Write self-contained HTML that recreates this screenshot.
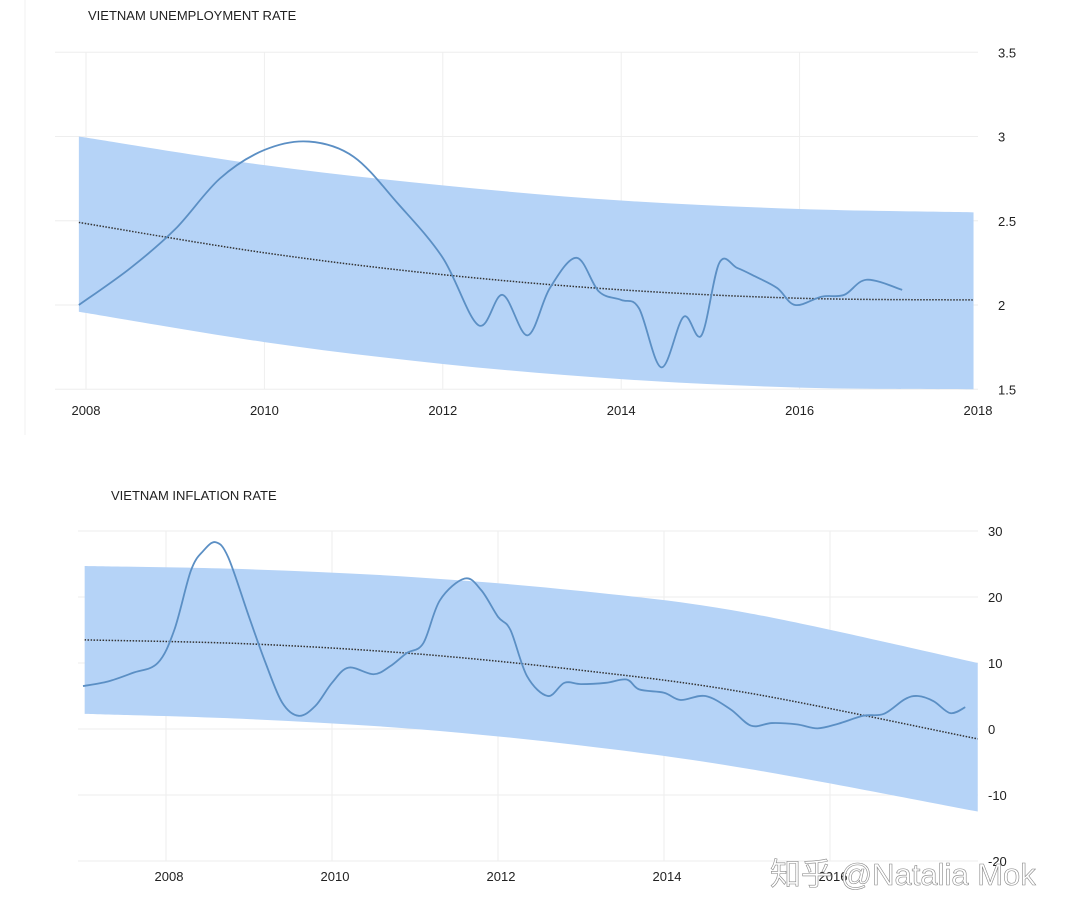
<!DOCTYPE html>
<html><head><meta charset="utf-8">
<style>
body{margin:0;background:#fff;font-family:"Liberation Sans","Noto Sans CJK SC",sans-serif;}
svg text{font-family:"Liberation Sans","Noto Sans CJK SC",sans-serif;}
</style></head>
<body>
<svg id="s" width="1080" height="918">
<line x1="25" y1="0" x2="25" y2="435" stroke="#f0f0f0"/>
<text x="88" y="20" font-size="13" fill="#222">VIETNAM UNEMPLOYMENT RATE</text>
<text x="111" y="500" font-size="13" fill="#222">VIETNAM INFLATION RATE</text>
<g id="c1"></g>
<g id="c2"></g>
<text x="770" y="885" font-size="31" fill="#fff" stroke="#888" stroke-width="0.6">知乎 @Natalia Mok</text>
</svg>
<script>
// Unemployment data
const uYears=[2007.92,2008.5,2009,2009.5,2010,2010.5,2011,2011.5,2012,2012.4,2012.67,2012.95,2013.2,2013.5,2013.75,2014,2014.2,2014.45,2014.7,2014.9,2015.1,2015.3,2015.5,2015.75,2015.95,2016.25,2016.5,2016.75,2017.15];
const uVals=[2.0,2.22,2.45,2.75,2.92,2.97,2.88,2.6,2.28,1.88,2.06,1.82,2.1,2.28,2.08,2.03,1.98,1.63,1.93,1.82,2.25,2.22,2.17,2.1,2.0,2.05,2.06,2.15,2.09];
const uBandX=[2007.92,2010,2012,2014,2016,2017.95];
const uBandTop=[3.0,2.83,2.71,2.62,2.57,2.55];
const uBandBot=[1.96,1.78,1.65,1.56,1.51,1.5];
const uFcst=[2.49,2.31,2.18,2.09,2.04,2.03];
const uYTicks=[1.5,2,2.5,3,3.5];
const uXTicks=[2008,2010,2012,2014,2016,2018];
// Inflation data
const iYears=[2007.0,2007.3,2007.6,2007.9,2008.1,2008.3,2008.45,2008.6,2008.75,2009.0,2009.2,2009.4,2009.6,2009.8,2010.0,2010.2,2010.5,2010.7,2010.9,2011.1,2011.3,2011.6,2011.8,2012.0,2012.15,2012.35,2012.6,2012.8,2013.0,2013.3,2013.55,2013.7,2014.0,2014.2,2014.5,2014.8,2015.05,2015.3,2015.6,2015.85,2016.1,2016.4,2016.65,2016.9,2017.06,2017.25,2017.45,2017.63];
const iVals=[6.5,7.2,8.5,10,15,24,27,28.3,26,17,10,4,2,3.5,7,9.3,8.3,9.5,11.5,13,19.5,22.8,21,17,15,8,5,7,6.8,7,7.5,6,5.5,4.4,5,3,0.5,0.9,0.7,0.1,0.8,2,2.3,4.5,5,4.2,2.4,3.3];
const iBandX=[2007.02,2009,2011,2013,2015,2017.78];
const iBandTop=[24.7,24.2,23.0,20.9,17.6,10.0];
const iBandBot=[2.3,1.5,0.0,-2.5,-6.0,-12.5];
const iFcst=[13.5,12.9,11.4,8.9,5.5,-1.5];
const iYTicks=[-20,-10,0,10,20,30];
const iXTicks=[2008,2010,2012,2014,2016];

const NS='http://www.w3.org/2000/svg';
function mk(p,t,a){const e=document.createElementNS(NS,t);for(const k in a)e.setAttribute(k,a[k]);p.appendChild(e);return e;}
function smooth(pts){let d='M'+pts[0][0]+','+pts[0][1];for(let i=0;i<pts.length-1;i++){const p0=pts[i-1]||pts[i],p1=pts[i],p2=pts[i+1],p3=pts[i+2]||p2;d+=' C'+(p1[0]+(p2[0]-p0[0])/6)+','+(p1[1]+(p2[1]-p0[1])/6)+' '+(p2[0]-(p3[0]-p1[0])/6)+','+(p2[1]-(p3[1]-p1[1])/6)+' '+p2[0]+','+p2[1];}return d;}
function draw(g,o){
 const X=v=>o.x0+(v-o.xv0)*o.xs, Y=v=>o.y0-(v-o.yv0)*o.ys;
 o.yt.forEach(t=>{const l=mk(g,'line',{x1:o.gl,x2:978,y1:Y(t),y2:Y(t),stroke:'#eee'});
  
  const tx=mk(g,'text',{x:o.lx,y:Y(t)+5,'font-size':13,fill:'#222','text-anchor':'start'});tx.textContent=String(t);
  });
 o.xt.forEach(t=>{if(t<2018){const l=mk(g,'line',{x1:X(t),x2:X(t),y1:o.gt,y2:o.gb,stroke:'#eee'});
  }
  const tx=mk(g,'text',{x:X(t)+o.lo,y:o.ly,'font-size':13,fill:'#222','text-anchor':'middle'});tx.textContent=String(t);
  });
 const top=o.bx.map((v,i)=>[X(v),Y(o.bt[i])]), bot=o.bx.map((v,i)=>[X(v),Y(o.bb[i])]).reverse();
 const band=mk(g,'path',{d:smooth(top)+' L'+bot[0][0]+','+bot[0][1]+smooth(bot).replace(/^M[^ ]*/,'')+'Z',fill:'#b5d3f7'});
 
 const f=mk(g,'path',{d:smooth(o.bx.map((v,i)=>[X(v),Y(o.fc[i])])),fill:'none',stroke:'#333','stroke-width':1.5,'stroke-dasharray':'1.5,1.5'});
 
 const ln=mk(g,'path',{d:smooth(o.xs_.map((v,i)=>[X(v),Y(o.vs[i])])),fill:'none',stroke:'#5b8fc4','stroke-width':1.8});
 
}
draw(document.getElementById('c1'),{x0:86,xv0:2008,xs:89.2,y0:305,yv0:2,ys:168.5,gl:55,lx:998,gt:52,gb:389,ly:415,lo:0,
 yt:uYTicks,xt:uXTicks,bx:uBandX,bt:uBandTop,bb:uBandBot,fc:uFcst,xs_:uYears,vs:uVals});
draw(document.getElementById('c2'),{x0:166,xv0:2008,xs:83,y0:729,yv0:0,ys:6.6,gl:78,lx:988,gt:531,gb:861,ly:881,lo:3,
 yt:iYTicks,xt:iXTicks,bx:iBandX,bt:iBandTop,bb:iBandBot,fc:iFcst,xs_:iYears,vs:iVals});
</script>
</body></html>
